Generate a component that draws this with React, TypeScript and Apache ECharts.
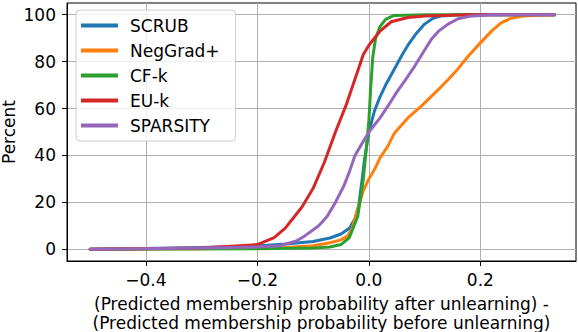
import React, { useEffect, useRef } from "react";
import * as echarts from "echarts";

const seriesNames = ["SCRUB", "NegGrad+", "CF-k", "EU-k", "SPARSITY"];
const seriesColors = ["#1f77b4", "#ff7f0e", "#2ca02c", "#d62728", "#9467bd"];

const scrubX = [-0.5, -0.4, -0.3, -0.2, -0.15, -0.1, -0.07, -0.05, -0.035, -0.025, -0.018, -0.012, -0.008, 0, 0.01, 0.02, 0.03, 0.046, 0.06, 0.07, 0.085, 0.1, 0.115, 0.13, 0.16, 0.333];
const scrubY = [0, 0.3, 0.8, 1.4, 2.2, 3.3, 4.8, 6.5, 9, 13, 19, 30, 38, 50, 59, 65, 70, 77, 83, 87, 92, 96, 98.5, 99.5, 100, 100];

const negGradX = [-0.5, -0.3, -0.2, -0.15, -0.1, -0.07, -0.05, -0.038, -0.03, -0.02, -0.01, 0, 0.01, 0.02, 0.034, 0.046, 0.07, 0.094, 0.12, 0.142, 0.16, 0.178, 0.2, 0.22, 0.237, 0.255, 0.273, 0.3, 0.333];
const negGradY = [0, 0.2, 0.5, 0.8, 1.5, 2.8, 4, 5.7, 9, 17, 25, 30, 34, 39, 44, 49.6, 56, 61, 67, 72.3, 77, 82.3, 88, 93, 96.5, 98.5, 99.3, 99.8, 100];

const cfkX = [-0.5, -0.2, -0.1, -0.07, -0.05, -0.035, -0.02, -0.01, -0.005, 0, 0.003, 0.007, 0.012, 0.02, 0.03, 0.045, 0.1, 0.333];
const cfkY = [0, 0.2, 0.5, 1, 2, 5, 14, 30, 42, 55, 68, 82, 90, 95, 98, 99.7, 100, 100];

const eukX = [-0.5, -0.3, -0.2, -0.17, -0.15, -0.12, -0.1, -0.08, -0.06, -0.04, -0.02, -0.01, 0, 0.02, 0.04, 0.07, 0.1, 0.18, 0.333];
const eukY = [0, 0.5, 2, 5, 9, 18, 26, 37, 50, 62, 76, 83, 87, 93, 97, 98.8, 99.5, 100, 100];

const sparsityX = [-0.5, -0.4, -0.3, -0.2, -0.16, -0.13, -0.115, -0.09, -0.075, -0.06, -0.045, -0.035, -0.025, -0.01, 0, 0.02, 0.034, 0.05, 0.065, 0.082, 0.1, 0.112, 0.125, 0.142, 0.16, 0.18, 0.22, 0.333];
const sparsityY = [0, 0.2, 0.5, 1, 1.5, 3.5, 5.7, 10, 14, 20, 27, 33, 40, 46, 50, 56, 61, 67, 72, 78, 85, 89.5, 93, 96, 98.3, 99.3, 100, 100];

const allX = [scrubX, negGradX, cfkX, eukX, sparsityX];
const allY = [scrubY, negGradY, cfkY, eukY, sparsityY];

const xTicks = [-0.4, -0.2, 0.0, 0.2];
const yTicks = [0, 20, 40, 60, 80, 100];

const xTitle = "(Predicted membership probability after unlearning) -\n(Predicted membership probability before unlearning)";
const yTitle = "Percent";

const FONT = "DejaVu Sans";
const FS = 17;

export default function App() {
  const ref = useRef<HTMLDivElement>(null);
  useEffect(() => {
    if (!ref.current) return;
    const chart = echarts.init(ref.current, null, { renderer: "svg" });
    const fmtX = (v: number) => {
      const s = Math.abs(v).toFixed(1);
      return v < -1e-9 ? "\u2212" + s : s;
    };
    chart.setOption({
      animation: false,
      grid: {
        left: 67,
        right: 2,
        top: 3,
        bottom: 71,
        outerBoundsMode: "none",
        containLabel: false,
        show: true,
        borderColor: "#000",
        borderWidth: 1,
        backgroundColor: "transparent",
      },
      graphic: [
        {
          type: "text",
          x: 9,
          y: 132,
          rotation: Math.PI / 2,
          style: {
            text: yTitle,
            fontFamily: FONT,
            fontSize: FS,
            fill: "#000",
            align: "center",
            verticalAlign: "middle",
          },
        },
      ],
      legend: {
        orient: "vertical",
        left: 76,
        top: 10,
        data: seriesNames.map((n) => ({ name: n, icon: "rect" })),
        itemWidth: 37,
        itemHeight: 4,
        itemGap: 8,
        padding: [7, 16, 7, 5],
        backgroundColor: "rgba(255,255,255,0.8)",
        borderColor: "#cccccc",
        borderWidth: 1,
        borderRadius: 4,
        textStyle: {
          fontFamily: FONT,
          fontSize: FS,
          color: "#000",
          lineHeight: 17,
          padding: [0, 0, 0, 7],
        },
      },
      xAxis: {
        type: "value",
        min: -0.5415,
        max: 0.3715,
        name: xTitle,
        nameLocation: "middle",
        nameGap: 33,
        nameTextStyle: {
          fontFamily: FONT,
          fontSize: FS,
          color: "#000",
          lineHeight: 19,
          verticalAlign: "top",
        },
        axisLine: { show: true, onZero: false, lineStyle: { color: "#000", width: 1 } },
        axisTick: {
          show: true,
          length: 5,
          lineStyle: { color: "#000" },
          customValues: xTicks,
        },
        axisLabel: {
          fontFamily: FONT,
          fontSize: FS,
          color: "#000",
          margin: 10,
          customValues: xTicks,
          formatter: fmtX,
        },
        splitLine: { show: true, lineStyle: { color: "#b0b0b0", width: 1 } },
      },
      yAxis: {
        type: "value",
        min: -5,
        max: 105,
        axisLine: { show: true, onZero: false, lineStyle: { color: "#000", width: 1 } },
        axisTick: {
          show: true,
          length: 5,
          lineStyle: { color: "#000" },
          customValues: yTicks,
        },
        axisLabel: {
          fontFamily: FONT,
          fontSize: FS,
          color: "#000",
          margin: 11,
          customValues: yTicks,
        },
        splitLine: { show: true, lineStyle: { color: "#b0b0b0", width: 1 } },
      },
      series: seriesNames.map((name, i) => ({
        name,
        type: "line",
        data: allX[i].map((x, j) => [x, allY[i][j]]),
        showSymbol: false,
        symbol: "none",
        smooth: false,
        color: seriesColors[i],
        lineStyle: { width: 3, color: seriesColors[i], join: "round", cap: "round" },
        z: 2 + i,
      })),
    });
    return () => chart.dispose();
  }, []);
  return <div ref={ref} style={{ width: 578, height: 332, position: "absolute", left: 0, top: 0 }} />;
}
